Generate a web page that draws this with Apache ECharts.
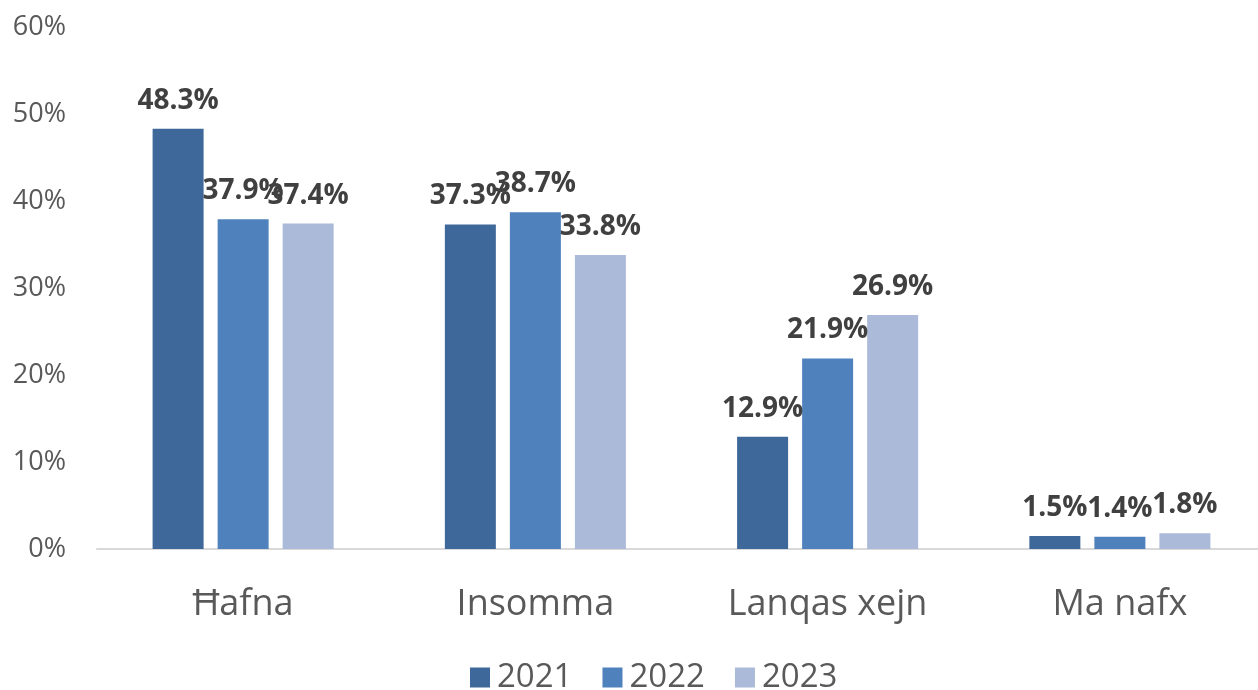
<!DOCTYPE html>
<html>
<head>
<meta charset="utf-8">
<script src="https://cdn.jsdelivr.net/npm/echarts@6/dist/echarts.min.js"></script>
<style>
  html, body { margin: 0; padding: 0; background: #ffffff; overflow: hidden; }
  #chart { width: 1280px; height: 690px; }
</style>
</head>
<body>
<div id="chart"></div>
<script>
// Response categories and yearly shares (%)
const categories = ['Ħafna', 'Insomma', 'Lanqas xejn', 'Ma nafx'];
const years = ['2021', '2022', '2023'];
const values2021 = [48.3, 37.3, 12.9, 1.5];
const values2022 = [37.9, 38.7, 21.9, 1.4];
const values2023 = [37.4, 33.8, 26.9, 1.8];
const yearColors = ['#3E6899', '#4F81BD', '#AABAD8'];

const FONT = '"Open Sans", "Noto Sans", sans-serif';

const seriesValues = [values2021, values2022, values2023];

const chart = echarts.init(document.getElementById('chart'), null, { renderer: 'canvas' });

chart.setOption({
  animation: false,
  backgroundColor: '#ffffff',
  // plot area runs slightly past the right edge of the visible page
  grid: { left: 97, top: 27, width: 1169, height: 522, containLabel: false },
  legend: {
    top: 656,
    left: 465,
    itemWidth: 20,
    itemHeight: 20,
    itemGap: 30,
    icon: 'rect',
    data: years,
    textStyle: { fontFamily: FONT, fontSize: 33, color: '#595959', padding: [0, 0, 0, 2] }
  },
  xAxis: {
    type: 'category',
    data: categories,
    axisLine: { lineStyle: { color: '#D9D9D9', width: 2 } },
    axisTick: { show: false },
    axisLabel: { fontFamily: FONT, fontSize: 36, color: '#595959', margin: 38 }
  },
  yAxis: {
    type: 'value',
    min: 0,
    max: 60,
    interval: 10,
    splitLine: { show: false },
    axisLine: { show: false },
    axisTick: { show: false },
    axisLabel: {
      fontFamily: FONT, fontSize: 27, color: '#595959', margin: 31,
      formatter: '{value}%'
    }
  },
  series: years.map((y, i) => ({
    name: y,
    type: 'bar',
    data: seriesValues[i],
    barWidth: 51,
    barGap: '27.5%',
    itemStyle: { color: yearColors[i] },
    label: {
      show: true,
      position: 'top',
      distance: 14,
      fontFamily: FONT,
      fontSize: 28,
      fontWeight: 'bold',
      color: '#404040',
      formatter: p => p.value.toFixed(1) + '%'
    }
  }))
});
</script>
</body>
</html>
